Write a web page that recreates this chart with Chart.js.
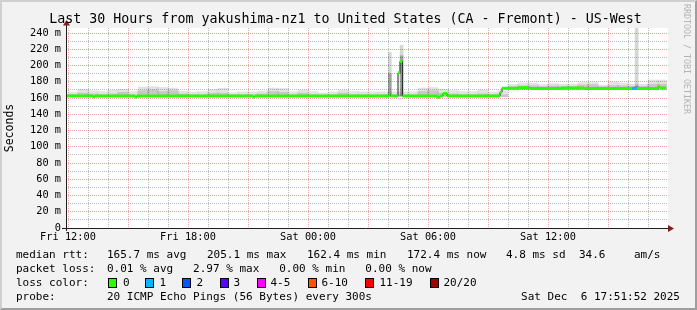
<!DOCTYPE html>
<html>
<head>
<meta charset="utf-8">
<script src="https://cdn.jsdelivr.net/npm/chart.js@4.4.1/dist/chart.umd.min.js"></script>
<style>
body{margin:0;background:#fff}
#wrap{position:relative;width:697px;height:310px;background:#f2f2f2;overflow:hidden;font-family:"DejaVu Sans Mono",monospace;color:#000}
#shade{position:absolute;left:0;top:0;width:697px;height:310px;box-sizing:border-box;border:2px solid;border-color:#cfcfcf #9e9e9e #9e9e9e #cfcfcf;pointer-events:none}
canvas{position:absolute;left:0;top:0}
.t{position:absolute;white-space:pre;font-size:11px;line-height:13px}
.title{position:absolute;left:-3px;width:697px;top:12px;text-align:center;font-size:13.3px;line-height:14px;white-space:pre}
.wm{position:absolute;left:682px;top:4px;writing-mode:vertical-rl;font-size:8.3px;color:#b4b4b4;white-space:pre}
.box{position:absolute;width:7px;height:8px;border:1px solid #000}
</style>
</head>
<body>
<div id="wrap">
  <canvas id="myChart" width="697" height="250"></canvas>
  <div class="title">Last 30 Hours from yakushima-nz1 to United States (CA - Fremont) - US-West</div>
  <div class="wm">RRDTOOL / TOBI OETIKER</div>
  <div id="legend"></div>
  <div id="shade"></div>
</div>
<script>
// hours since Fri 12:00
const xTickHours = [0, 6, 12, 18, 24];
const xTickLabels = ['Fri 12:00', 'Fri 18:00', 'Sat 00:00', 'Sat 06:00', 'Sat 12:00'];
const yTickLabels = ['0', '20 m', '40 m', '60 m', '80 m', '100 m', '120 m', '140 m', '160 m', '180 m', '200 m', '220 m', '240 m'];

// median rtt in ms, each value holds until the next time
const medTimes  = [-0.1, 1.25, 1.35, 3.35, 3.45, 9.25, 9.35, 16.05, 16.12, 16.5, 16.6, 16.72, 18.45, 18.6, 18.75, 18.95, 21.6, 21.7, 22.5, 23.1, 24.7, 25.8, 28.2, 28.45, 29.5, 29.6, 29.88];
const medValues = [162.6, 161.5, 162.6, 161.3, 162.6, 161.4, 162.6, 164.8, 162.6, 191.0, 205.1, 162.6, 161.0, 162.6, 165.5, 162.6, 167.0, 172.0, 172.7, 171.7, 172.3, 171.7, 171.9, 171.7, 174.0, 172.4, 172.4];
const medLoss   = [0, 0, 0, 0, 0, 0, 0, 0, 0, 0, 0, 0, 0, 0, 0, 0, 0, 0, 0, 0, 0, 0, 1, 0, 0, 0, 0];

// smoke (ping spread) per half hour
const smokeTimes = [0.25, 0.75, 1.25, 1.75, 2.25, 2.75, 3.25, 3.75, 4.25, 4.75, 5.25, 5.75, 6.25, 6.75, 7.25, 7.75, 8.25, 8.75, 9.25, 9.75,
  10.25, 10.75, 11.25, 11.75, 12.25, 12.75, 13.25, 13.75, 14.25, 14.75, 15.25, 15.75, 16.25, 16.75, 17.25, 17.75, 18.25, 18.75, 19.25, 19.75,
  20.25, 20.75, 21.25, 21.75, 22.25, 22.75, 23.25, 23.75, 24.25, 24.75, 25.25, 25.75, 26.25, 26.75, 27.25, 27.75, 28.25, 28.75, 29.25, 29.75];
const smokeLo = [161.5, 161.5, 161.5, 161.5, 161.5, 161.5, 161.5, 161.5, 161.5, 161.5, 161.5, 161.5, 161.5, 161.5, 161.5, 161.5, 161.5, 161.5, 161.5, 161.5,
  161.5, 161.5, 161.5, 161.5, 161.5, 161.5, 161.5, 161.5, 161.5, 161.5, 161.5, 161.5, 161.5, 161.5, 161.5, 161.5, 161.5, 161.5, 161.5, 161.5,
  161.5, 161.5, 161.5, 161.5, 170.5, 170.5, 170.5, 170.5, 170.5, 170.5, 170.5, 170.5, 170.5, 170.5, 170.5, 170.5, 170.5, 170.5, 170.5, 170.5];
const smokeHi = [167.4, 170.7, 169.0, 168.0, 169.8, 170.7, 168.0, 173.5, 174.0, 173.0, 172.3, 168.6, 167.4, 168.0, 170.5, 172.0, 166.5, 167.7, 167.4, 168.6,
  172.3, 171.7, 167.7, 169.8, 168.0, 166.2, 167.4, 169.8, 168.0, 167.7, 167.7, 167.7, 167.7, 167.7, 167.7, 172.3, 173.0, 170.7, 169.2, 168.0,
  168.0, 169.8, 167.4, 169.0, 176.6, 178.5, 178.5, 176.6, 178.0, 177.2, 177.2, 179.0, 179.0, 176.0, 179.7, 178.5, 177.2, 177.2, 182.2, 182.2];
const smokeDark = [164, 166, 165, 164, 165, 167, 164, 169, 170, 168, 169, 165, 164, 164, 166, 166, 164, 164, 164, 165,
  168, 167, 164, 166, 164, 163.5, 164, 166, 164, 164, 164, 164, 164, 164, 164, 168, 169, 166, 165, 164,
  164, 165, 164, 164, 174, 175, 175, 174, 175, 174.5, 174.5, 176, 176.5, 174, 175.5, 175, 174.5, 174.5, 177, 177];

// narrow spikes in the smoke
const spikeTimes = [16.09, 16.68, 28.43];
const spikeLo    = [163, 163, 172];
const spikeHi    = [216, 225, 246.2];
const spikeDark  = [190, 212, 174];

const lossLabels = ['0', '1', '2', '3', '4-5', '6-10', '11-19', '20/20'];
const lossColors = ['#26ff00', '#00b8ff', '#0059ff', '#5e00ff', '#ff00ff', '#ff5500', '#ff0000', '#a10000'];

Chart.defaults.font.family = '"DejaVu Sans Mono", monospace';
Chart.defaults.color = '#000';

// green line: only the flat parts, the jumps stay black
let greenData = [];
for (let i = 0; i < medTimes.length - 1; i++) {
    greenData.push({x: medTimes[i], y: medValues[i], loss: medLoss[i]});
    greenData.push({x: medTimes[i + 1], y: medValues[i], loss: medLoss[i]});
    greenData.push({x: medTimes[i + 1], y: null});
}

const canvasBg = {
    id: 'canvasBg',
    beforeDraw(chart) {
        const {ctx, chartArea: a} = chart;
        ctx.save();
        ctx.fillStyle = '#fff';
        ctx.fillRect(a.left, a.top, a.right - a.left + 1, a.bottom - a.top);
        ctx.restore();
    }
};

const axes = {
    id: 'axes',
    afterDatasetsDraw(chart) {
        const {ctx, chartArea: a} = chart;
        ctx.save();
        ctx.strokeStyle = '#1f1f1f';
        ctx.lineWidth = 1;
        ctx.beginPath();
        ctx.moveTo(62, a.bottom + 0.5);
        ctx.lineTo(a.right + 2, a.bottom + 0.5);
        ctx.moveTo(a.left + 0.5, a.bottom + 3);
        ctx.lineTo(a.left + 0.5, a.top - 3);
        ctx.stroke();
        ctx.fillStyle = '#801f1f';
        ctx.beginPath();
        ctx.moveTo(a.right + 1, a.bottom - 3);
        ctx.lineTo(a.right + 7, a.bottom + 0.5);
        ctx.lineTo(a.right + 1, a.bottom + 4);
        ctx.fill();
        ctx.beginPath();
        ctx.moveTo(a.left - 3, a.top - 2.5);
        ctx.lineTo(a.left + 0.5, a.top - 8);
        ctx.lineTo(a.left + 4, a.top - 2.5);
        ctx.fill();
        ctx.restore();
    }
};

const ctx = document.getElementById('myChart').getContext('2d');
const myChart = new Chart(ctx, {
    type: 'bar',
    data: {
        datasets: [
            {
                type: 'line',
                data: greenData,
                borderWidth: 3,
                borderCapStyle: 'butt',
                pointRadius: 0,
                spanGaps: false,
                segment: {
                    borderColor: c => lossColors[greenData[c.p0DataIndex].loss]
                },
                borderColor: lossColors[0],
                order: 0
            },
            {
                type: 'line',
                data: medTimes.map((t, i) => ({x: t, y: medValues[i]})),
                stepped: true,
                borderColor: '#202020',
                borderWidth: 1,
                pointRadius: 0,
                order: 1
            },
            {
                data: spikeTimes.map((t, i) => ({x: t, y: [spikeLo[i], spikeDark[i]]})),
                backgroundColor: 'rgba(0,0,0,0.25)',
                barThickness: 3,
                grouped: false,
                order: 2
            },
            {
                data: spikeTimes.map((t, i) => ({x: t, y: [spikeLo[i], spikeHi[i]]})),
                backgroundColor: 'rgba(0,0,0,0.16)',
                barThickness: 3,
                grouped: false,
                order: 3
            },
            {
                data: smokeTimes.map((t, i) => ({x: t, y: [smokeLo[i], smokeDark[i]]})),
                backgroundColor: 'rgba(0,0,0,0.12)',
                barThickness: 10,
                grouped: false,
                order: 4
            },
            {
                data: smokeTimes.map((t, i) => ({x: t, y: [smokeLo[i], smokeHi[i]]})),
                backgroundColor: 'rgba(0,0,0,0.11)',
                barThickness: 10,
                grouped: false,
                order: 5
            }
        ]
    },
    options: {
        responsive: false,
        animation: false,
        layout: {padding: {top: 28, right: 30, left: 0, bottom: 0}},
        plugins: {legend: {display: false}, tooltip: {enabled: false}, title: {display: false}},
        scales: {
            x: {
                type: 'linear',
                min: -0.1,
                max: 29.95,
                offset: false,
                afterFit: s => { s.height = 22; },
                grid: {
                    offset: false,
                    drawTicks: false,
                    color: c => c.tick.value % 3 === 0 ? 'rgba(222,79,79,0.5)' : 'rgba(143,143,143,0.6)'
                },
                border: {display: false, dash: [1, 1]},
                ticks: {
                    stepSize: 1,
                    autoSkip: false,
                    includeBounds: false,
                    maxRotation: 0,
                    padding: 3,
                    font: {size: 10.3},
                    callback: v => {
                        const k = xTickHours.indexOf(v);
                        return k >= 0 ? xTickLabels[k] : '';
                    }
                }
            },
            y: {
                min: 0,
                max: 246.2,
                afterFit: s => { s.width = 66; },
                grid: {
                    drawTicks: false,
                    color: c => c.tick.value % 20 === 0 ? 'rgba(222,79,79,0.5)' : 'rgba(143,143,143,0.6)'
                },
                border: {display: false, dash: [1, 1]},
                title: {display: true, text: 'Seconds', font: {size: 11.5}, padding: {top: 3.5, bottom: 0}},
                ticks: {
                    stepSize: 10,
                    autoSkip: false,
                    includeBounds: false,
                    padding: 5,
                    font: {size: 10.3},
                    callback: v => v % 20 === 0 ? yTickLabels[v / 20] : ''
                }
            }
        }
    },
    plugins: [canvasBg, axes]
});

// text legend below the graph
const legend = document.getElementById('legend');
function put(txt, x, y) {
    let d = document.createElement('div');
    d.className = 't';
    d.style.left = x + 'px';
    d.style.top = y + 'px';
    d.textContent = txt;
    legend.appendChild(d);
    return d;
}
put('median rtt:', 16, 248);
put('165.7 ms avg', 107, 248);
put('205.1 ms max', 207, 248);
put('162.4 ms min', 307, 248);
put('172.4 ms now', 407, 248);
put('4.8 ms sd', 506, 248);
put('34.6', 579, 248);
put('am/s', 634, 248);
put('packet loss:', 16, 261.5);
put('0.01 % avg   2.97 % max   0.00 % min   0.00 % now', 107, 261.5);
put('loss color:', 16, 275.5);
const boxX = [108, 145, 182, 219.5, 257, 307.5, 365, 430];
const labX = [123, 159.5, 196.5, 233.5, 270.5, 321.5, 379.5, 443.5];
lossLabels.forEach((l, i) => {
    let b = document.createElement('div');
    b.className = 'box';
    b.style.left = boxX[i] + 'px';
    b.style.top = '277.5px';
    b.style.background = lossColors[i];
    legend.appendChild(b);
    put(l, labX[i], 275.5);
});
put('probe:', 16, 289.5);
put('20 ICMP Echo Pings (56 Bytes) every 300s', 107, 289.5);
let d = put('Sat Dec  6 17:51:52 2025', 0, 289.5);
d.style.left = 'auto';
d.style.right = '17px';
</script>
</body>
</html>
